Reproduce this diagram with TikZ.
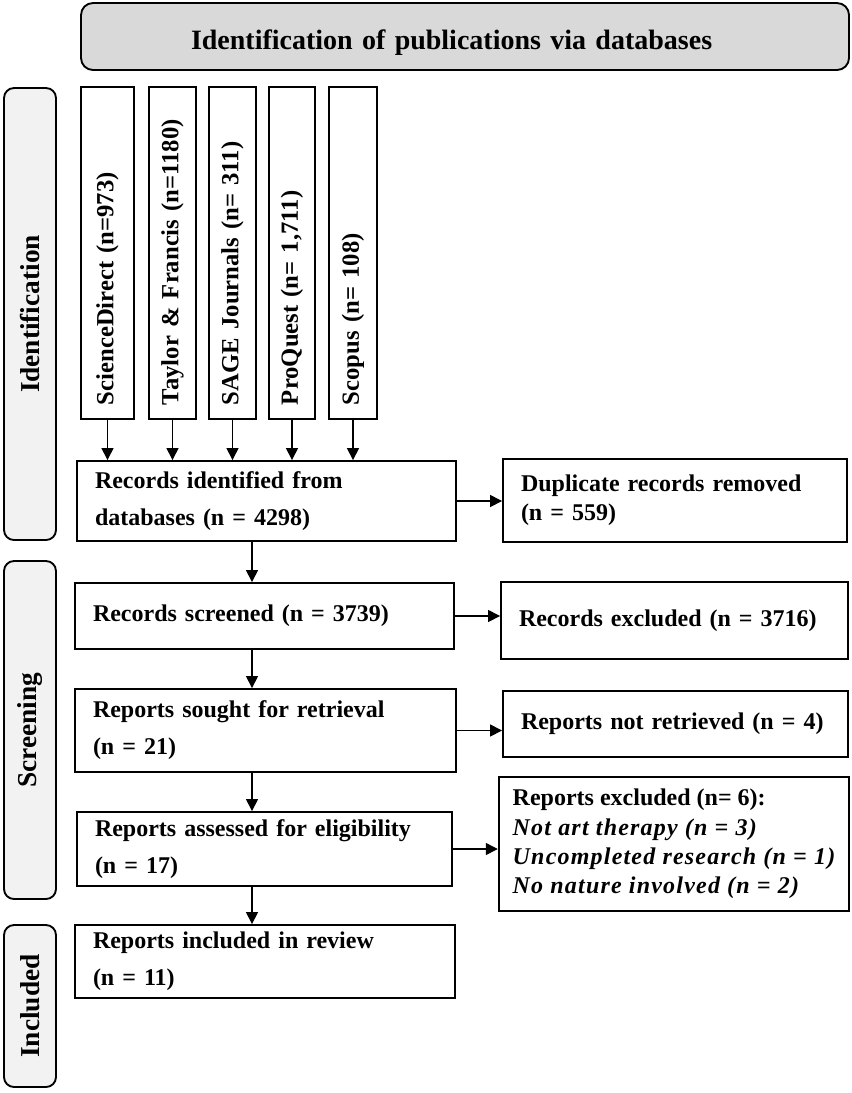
\documentclass[tikz,border=0pt]{standalone}
\usepackage{fontspec}
\setmainfont{Liberation Serif}
\newfontfamily\spacedserif{Liberation Serif}[LetterSpace=5]
\usepackage{xcolor}
\usepackage{tikz}
\usetikzlibrary{arrows.meta}

\definecolor{headgray}{RGB}{217,217,217}
\definecolor{stagegray}{RGB}{242,242,242}
\newcommand{\exclitem}[1]{{\spacedserif\bfseries\itshape #1}}

\begin{document}
\begin{tikzpicture}[x=0.75pt,y=0.75pt,yscale=-1,xscale=1,
  headbox/.style={draw,line width=1.4pt,rounded corners=9pt,fill=headgray,align=left,text width=411pt,inner xsep=82.5pt,minimum height=50.25pt,text height=21pt,text depth=2.2pt,font=\bfseries\fontsize{21}{25}\selectfont},
  stagebox/.style={draw,line width=1.4pt,rounded corners=7.5pt,fill=stagegray,rotate=90,minimum height=39pt,inner sep=0pt,font=\bfseries\fontsize{20.5}{24}\selectfont},
  dbbox/.style={draw,line width=1.4pt,rotate=90,align=left,text width=228pt,inner xsep=10.5pt,minimum width=249pt,font=\bfseries\fontsize{18.5}{22}\selectfont},
  flowbox/.style={draw,line width=1.4pt,align=left,inner xsep=13.5pt,font=\bfseries\fontsize{18}{27.75}\selectfont},
  arr/.style={-{Triangle[length=9pt,width=9pt]},line width=1pt}]
\useasboundingbox (0,0) rectangle (851,1093);

% Header
\node[headbox] (head) at (465,36.5) {Identification of publications via databases};

% Stage labels
\node[stagebox,minimum width=339pt] (stageid) at (30,314) {Identification};
\node[stagebox,minimum width=253.5pt] (stagescr) at (30,730) {Screening};
\node[stagebox,minimum width=121.5pt] (stageinc) at (30,1006) {Included};

% Databases
\node[dbbox,minimum height=39.75pt] (sd) at (107.5,253) {ScienceDirect (n=973)};
\node[dbbox,minimum height=35.25pt] (tf) at (172.5,253) {Taylor \& Francis (n=1180)};
\node[dbbox,minimum height=35.25pt] (sage) at (232.5,253) {SAGE Journals (n= 311)};
\node[dbbox,minimum height=34.5pt] (pq) at (292,253) {ProQuest (n= 1,711)};
\node[dbbox,minimum height=36pt] (sc) at (353,253) {Scopus (n= 108)};

% Main column
\node[flowbox,text width=257.25pt,minimum height=60pt] (ident) at (266.5,501) {Records identified from\\databases (n = 4298)};
\node[flowbox,text width=257.25pt,minimum height=49.5pt] (screened) at (264.5,616) {Records screened (n = 3739)};
\node[flowbox,text width=258.75pt,minimum height=62.25pt] (sought) at (265.5,730.5) {Reports sought for retrieval\\(n = 21)};
\node[flowbox,text width=254.25pt,minimum height=55.5pt] (assessed) at (264.5,849) {Reports assessed for eligibility\\(n = 17)};
\node[flowbox,text width=258pt,minimum height=54.75pt] (included) at (265,961.5) {Reports included in review\\(n = 11)};

% Right column
\node[flowbox,text width=231pt,minimum height=62.25pt,font=\bfseries\fontsize{18}{21.75}\selectfont] (dup) at (675,500.5) {Duplicate records removed\\(n = 559)};
\node[flowbox,text width=233.25pt,minimum height=57.75pt] (excl) at (674.5,620.5) {Records excluded (n = 3716)};
\node[flowbox,text width=231.75pt,minimum height=49.5pt] (notret) at (675.5,724) {Reports not retrieved (n = 4)};
\node[flowbox,inner xsep=10.5pt,minimum width=262.5pt,minimum height=100.5pt,font=\bfseries\fontsize{18}{22}\selectfont] (repexcl) at (674,844) {Reports excluded (n= 6):\\\exclitem{Not art therapy (n = 3)}\\\exclitem{Uncompleted research (n = 1)}\\\exclitem{No nature involved (n = 2)}};

% Arrows
\foreach \db in {sd,tf,sage,pq,sc}
  \draw[arr] (\db.west) -- (\db.west |- ident.north);
\coordinate (spine) at (252,0);
\draw[arr] (spine |- ident.south) -- (spine |- screened.north);
\draw[arr] (spine |- screened.south) -- (spine |- sought.north);
\draw[arr] (spine |- sought.south) -- (spine |- assessed.north);
\draw[arr] (spine |- assessed.south) -- (spine |- included.north);
\draw[arr] (ident.east) -- (ident.east -| dup.west);
\draw[arr] (screened.east) -- (screened.east -| excl.west);
\draw[arr] (sought.east) -- (sought.east -| notret.west);
\draw[arr] (assessed.east) -- (assessed.east -| repexcl.west);
\end{tikzpicture}
\end{document}
